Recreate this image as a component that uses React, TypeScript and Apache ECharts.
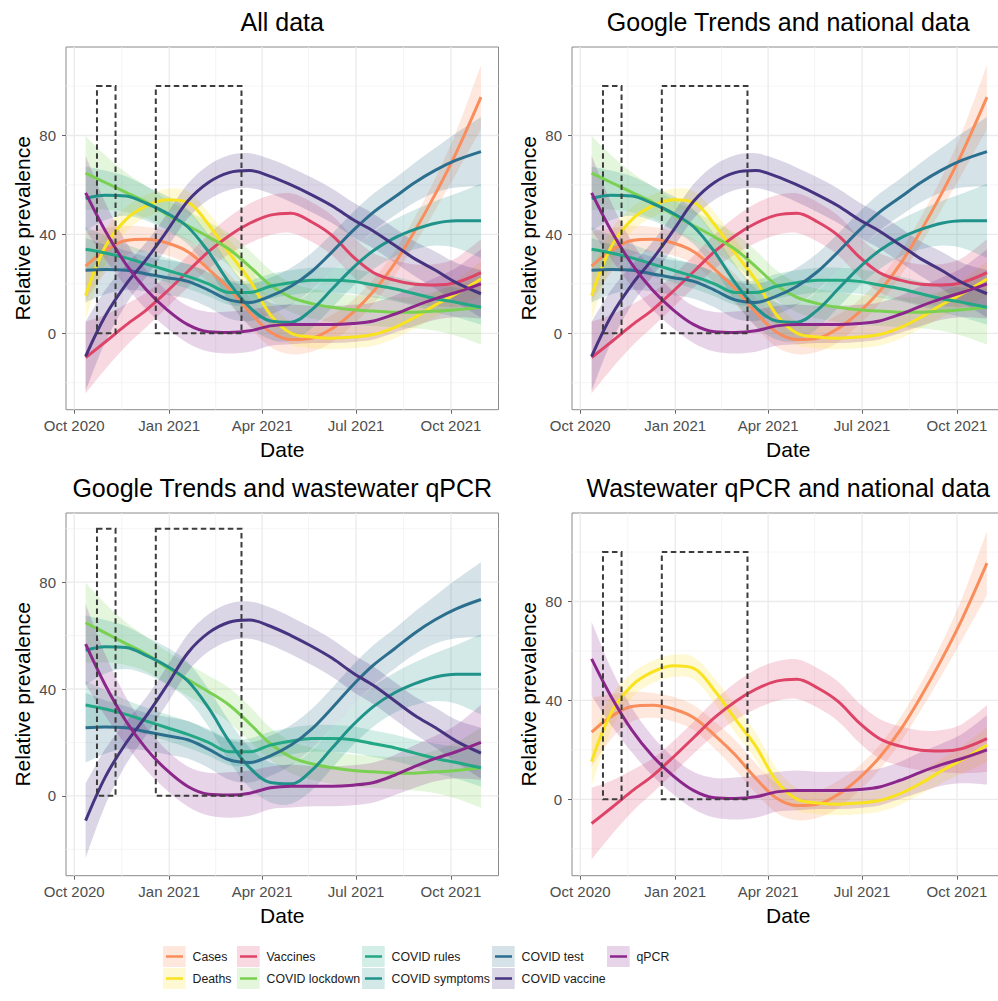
import React, { useEffect, useRef } from 'react';
import * as echarts from 'echarts';

// ---------- data ----------
const DATES = ['2020-10-12','2020-10-31','2020-11-20','2020-12-10','2020-12-30','2021-01-19','2021-02-08','2021-02-28','2021-03-20','2021-04-09','2021-04-29','2021-05-19','2021-06-08','2021-06-28','2021-07-18','2021-08-07','2021-08-27','2021-09-16','2021-10-06','2021-10-30'];

const CASES = [27.2, 33.5, 37.5, 38, 36.5, 33, 26, 18, 8.5, 0.5, -2.5, -2, 2, 8.5, 17, 28, 41.5, 56.5, 73, 95.5];
const CASES_SE = [14, 9, 6, 5, 5, 5, 5.5, 6, 6, 6, 6, 5.5, 5.5, 5, 5, 5, 5.5, 6.5, 8.5, 13];
const DEATHS = [15.3, 35, 46, 51.5, 54, 53, 44, 32.5, 21.5, 7.5, 0, -1.5, -2, -1.5, -0.5, 2.3, 6.5, 11.5, 16, 22];
const DEATHS_SE = [10, 7, 5, 4.5, 4.5, 4.5, 5, 5.5, 5.5, 5, 4.5, 4.5, 4.5, 4.5, 4.5, 4.5, 4.5, 5, 5.5, 7];
const VACCINES = [-9.8, -3.5, 3.3, 9.5, 17, 25, 33, 39.5, 44.5, 47.8, 48.6, 45, 39.5, 31, 24.5, 21.5, 19.8, 19.5, 20.5, 24.5];
const VACCINES_SE = [14.5, 11, 8.5, 7, 6.5, 6.5, 7, 7.5, 8, 8, 8, 8, 8, 8, 8, 8, 8, 8.5, 10, 13.5];
const LOCKDOWN = [64.8, 61, 57, 53, 48, 43.5, 39, 34, 27, 19.5, 14.5, 12, 10.5, 9.5, 9, 8.5, 8.5, 9, 9.5, 10.5];
const LOCKDOWN_SE = [15, 11, 8, 6.5, 6, 6, 6, 6.5, 6.5, 6, 6, 6, 6, 6, 6, 6, 6.5, 8, 10.5, 15];
const RULES = [34, 32.5, 30.5, 28, 25.5, 23, 20, 16.5, 16.5, 19, 20.5, 21.5, 21.5, 21, 19.5, 18, 16, 14, 12.5, 10.5];
const RULES_SE = [9, 7, 5.5, 5, 5, 5, 5, 5, 5, 5, 5, 5, 5, 5, 5, 5, 5, 5.5, 6, 7];
const SYMPTOMS = [54.5, 55.8, 55.5, 52.5, 48.5, 43, 33, 20.5, 10.5, 5, 4.5, 9.5, 18, 26.5, 33.5, 38.5, 42, 44.5, 45.5, 45.5];
const SYMPTOMS_SE = [13, 10, 8, 7, 7, 7, 7, 7.5, 7.5, 7.5, 7.5, 7.5, 7.5, 7.5, 7.5, 7.5, 8, 9, 11, 15];
const TEST = [25.5, 25.8, 25.5, 24, 22.5, 21, 17.5, 13.5, 12.5, 15, 19, 25, 33, 41.5, 49, 55, 61, 66, 70, 73.5];
const TEST_SE = [13, 10, 8, 7, 7, 7, 7, 7.5, 7.5, 7.5, 7.5, 7.5, 7.5, 7.5, 7.5, 7.5, 8, 9, 11, 14];
const VACCINE = [-9.3, 7, 19.7, 30, 41.5, 53.5, 61, 65, 65.8, 63.5, 60, 56, 51.5, 46, 41.3, 35.7, 30.1, 25.5, 20.5, 16];
const VACCINE_SE = [14, 10.5, 8, 7, 7, 7, 7, 7, 7, 7, 7, 7, 7, 7, 7, 7, 7, 7.5, 8, 9.5];
const QPCR = [56.8, 41.5, 28, 17.5, 9.5, 3.5, 0.6, 0.3, 1, 3, 3.6, 3.6, 3.6, 4, 5, 7.7, 11, 14, 16.5, 20];
const QPCR_SE = [15, 11.5, 9, 8, 7.5, 7.5, 8, 8.5, 8.5, 8, 8, 7.5, 7.5, 7.5, 7.5, 7.5, 8, 8.5, 10, 14];

const NAMES = ['Cases', 'Deaths', 'Vaccines', 'COVID lockdown', 'COVID rules', 'COVID symptoms', 'COVID test', 'COVID vaccine', 'qPCR'];
const VALUES = [CASES, DEATHS, VACCINES, LOCKDOWN, RULES, SYMPTOMS, TEST, VACCINE, QPCR];
const SES = [CASES_SE, DEATHS_SE, VACCINES_SE, LOCKDOWN_SE, RULES_SE, SYMPTOMS_SE, TEST_SE, VACCINE_SE, QPCR_SE];
const COLORS = ['#F98D5B', '#F9E21E', '#DE4368', '#7AD151', '#22A884', '#1F928A', '#2C6E8E', '#463480', '#8B278A'];

const PANEL_TITLES = ['All data', 'Google Trends and national data', 'Google Trends and wastewater qPCR', 'Wastewater qPCR and national data'];
const PANEL_MEMBERS = [[0, 1, 2, 3, 4, 5, 6, 7, 8], [0, 1, 2, 3, 4, 5, 6, 7, 8], [3, 4, 5, 6, 7, 8], [0, 1, 2, 8]];

const X_MAJOR = ['2020-10-01', '2021-01-01', '2021-04-01', '2021-07-01', '2021-10-01'];
const X_MINOR = ['2020-11-16', '2021-02-15', '2021-05-16', '2021-08-16'];
const Y_MAJOR = [0, 40, 80];
const Y_MINOR = [-20, 20, 60, 100];
const BOXES = [['2020-10-23', '2020-11-10'], ['2020-12-19', '2021-03-12']];
const BOX_Y = [0, 100];

const MONTHS = ['Jan', 'Feb', 'Mar', 'Apr', 'May', 'Jun', 'Jul', 'Aug', 'Sep', 'Oct', 'Nov', 'Dec'];

// ---------- layout ----------
const X_RANGE = ['2020-09-23', '2021-11-16'];
const PANELS = [
  { left: 66, top: 47, yMin: -30.9, yMax: 115.8 },
  { left: 572, top: 47, yMin: -30.9, yMax: 115.8 },
  { left: 66, top: 513, yMin: -29.9, yMax: 105.9 },
  { left: 572, top: 513, yMin: -30.9, yMax: 115.8 },
];
const PLOT_W = 432.5;
const PLOT_H = 362.7;
const FONT = "'Liberation Sans', Arial, Helvetica, sans-serif";
const LEGEND_COLS = [[0, 1], [2, 3], [4, 5], [6, 7], [8]];
const LEGEND_LEFT = [163, 237, 362, 492, 607];
const LEGEND_TOP = 946;

function alpha(hex: string, a: number) {
  const r = parseInt(hex.slice(1, 3), 16);
  const g = parseInt(hex.slice(3, 5), 16);
  const b = parseInt(hex.slice(5, 7), 16);
  return `rgba(${r},${g},${b},${a})`;
}

const ts = (d: string) => Date.parse(d);

// Catmull-Rom spline through pixel points, as cubic Bezier commands (for drawing only)
function splineSegs(p: number[][]): string {
  let d = '';
  for (let i = 0; i < p.length - 1; i++) {
    const p0 = p[Math.max(0, i - 1)];
    const p1 = p[i];
    const p2 = p[i + 1];
    const p3 = p[Math.min(p.length - 1, i + 2)];
    const c1x = p1[0] + (p2[0] - p0[0]) / 6;
    const c1y = p1[1] + (p2[1] - p0[1]) / 6;
    const c2x = p2[0] - (p3[0] - p1[0]) / 6;
    const c2y = p2[1] - (p3[1] - p1[1]) / 6;
    d += ` C${c1x.toFixed(2)},${c1y.toFixed(2)} ${c2x.toFixed(2)},${c2y.toFixed(2)} ${p2[0].toFixed(2)},${p2[1].toFixed(2)}`;
  }
  return d;
}

function buildOption() {
  const xs = DATES.map(ts);
  const xMajor = X_MAJOR.map(ts);
  const xMinor = X_MINOR.map(ts);
  const grid: any[] = [];
  const xAxis: any[] = [];
  const yAxis: any[] = [];
  const series: any[] = [];
  const title: any[] = [];

  PANELS.forEach((p, gi) => {
    grid.push({
      left: p.left, top: p.top, width: PLOT_W, height: PLOT_H,
      show: true, borderColor: '#8a8a8a', borderWidth: 1, backgroundColor: 'transparent',
      containLabel: false, outerBoundsMode: 'none',
    });
    xAxis.push({
      type: 'value', gridIndex: gi, min: ts(X_RANGE[0]), max: ts(X_RANGE[1]),
      name: 'Date', nameLocation: 'middle', nameGap: 29,
      nameTextStyle: { fontSize: 21, color: '#000', fontFamily: FONT },
      axisLine: { show: false, onZero: false },
      axisTick: { show: true, customValues: xMajor, length: 4, lineStyle: { color: '#666', width: 1 } },
      axisLabel: {
        customValues: xMajor, margin: 8, color: '#4D4D4D', fontSize: 15, fontFamily: FONT,
        formatter: (v: number) => { const d = new Date(v); return MONTHS[d.getUTCMonth()] + ' ' + d.getUTCFullYear(); },
      },
      splitLine: { show: false },
    });
    yAxis.push({
      type: 'value', gridIndex: gi, min: p.yMin, max: p.yMax,
      name: 'Relative prevalence', nameLocation: 'middle', nameGap: 33,
      nameTextStyle: { fontSize: 21, color: '#000', fontFamily: FONT },
      axisLine: { show: false, onZero: false },
      axisTick: { show: true, customValues: Y_MAJOR, length: 4, lineStyle: { color: '#666', width: 1 } },
      axisLabel: { customValues: Y_MAJOR, margin: 10, color: '#4D4D4D', fontSize: 15, fontFamily: FONT },
      splitLine: { show: false },
    });
    title.push({
      text: PANEL_TITLES[gi], left: p.left + PLOT_W / 2, top: p.top - 38, textAlign: 'center', padding: 0,
      textStyle: { fontSize: 25, fontWeight: 'normal', color: '#000', fontFamily: FONT },
    });

    // grid lines
    const gl: any[] = [];
    xMinor.forEach((x) => gl.push([x, 0, 1, 0]));
    Y_MINOR.forEach((y) => gl.push([xMajor[0], y, 0, 0]));
    xMajor.forEach((x) => gl.push([x, 0, 1, 1]));
    Y_MAJOR.forEach((y) => gl.push([xMajor[0], y, 0, 1]));
    series.push({
      type: 'custom', xAxisIndex: gi, yAxisIndex: gi, silent: true, z: 1, data: gl,
      renderItem: (params: any, api: any) => {
        const cs = params.coordSys;
        const pt = api.coord([api.value(0), api.value(1)]);
        const vertical = api.value(2) === 1;
        const major = api.value(3) === 1;
        const shape = vertical
          ? { x1: pt[0], y1: cs.y, x2: pt[0], y2: cs.y + cs.height }
          : { x1: cs.x, y1: pt[1], x2: cs.x + cs.width, y2: pt[1] };
        return { type: 'line', shape, silent: true, style: { stroke: major ? '#EBEBEB' : '#F3F3F3', lineWidth: major ? 1.3 : 0.8 } };
      },
    });

    PANEL_MEMBERS[gi].forEach((k) => {
      const vals = VALUES[k];
      const se = SES[k];
      const bandData = xs.map((x, i) => [x, vals[i] - se[i], vals[i] + se[i]]);
      series.push({
        type: 'custom', name: NAMES[k] + ' band', xAxisIndex: gi, yAxisIndex: gi, silent: true, z: 2, clip: true,
        data: bandData,
        encode: { x: 0, y: [1, 2] },
        renderItem: (params: any, api: any) => {
          if (params.dataIndex !== 0) return null;
          const upper = bandData.map((r) => api.coord([r[0], r[2]]));
          const lower = bandData.map((r) => api.coord([r[0], r[1]])).reverse();
          const d = `M${upper[0][0].toFixed(2)},${upper[0][1].toFixed(2)}` + splineSegs(upper) +
            ` L${lower[0][0].toFixed(2)},${lower[0][1].toFixed(2)}` + splineSegs(lower) + ' Z';
          return { type: 'path', shape: { pathData: d }, silent: true, style: { fill: alpha(COLORS[k], 0.2), stroke: 'none' } };
        },
      });
      series.push({
        type: 'line', name: NAMES[k], xAxisIndex: gi, yAxisIndex: gi,
        data: xs.map((x, i) => [x, vals[i]]), smooth: 0.35, symbol: 'none', silent: true,
        lineStyle: { color: COLORS[k], width: 3 }, itemStyle: { color: COLORS[k] }, z: 2,
      });
    });

    series.push({
      type: 'custom', xAxisIndex: gi, yAxisIndex: gi, silent: true, z: 3,
      data: BOXES.map((b) => [ts(b[0]), BOX_Y[0], ts(b[1]), BOX_Y[1]]),
      renderItem: (params: any, api: any) => {
        const a = api.coord([api.value(0), api.value(3)]);
        const b = api.coord([api.value(2), api.value(1)]);
        return {
          type: 'rect', silent: true,
          shape: { x: a[0], y: a[1], width: b[0] - a[0], height: b[1] - a[1] },
          style: { fill: 'none', stroke: '#3c3c3c', lineWidth: 2, lineDash: [5.5, 3.5] },
        };
      },
    });
  });

  const LINE_ICON = 'path://M0,0h0.01v0.01h-0.01z M3,9.2h17v2.6h-17z M24.49,20.99h0.01v0.01h-0.01z';
  const legend: any[] = [];
  LEGEND_COLS.forEach((col, ci) => {
    legend.push({
      orient: 'vertical', left: LEGEND_LEFT[ci], top: LEGEND_TOP, padding: 0,
      itemWidth: 22.7, itemHeight: 21, itemGap: 1, icon: 'rect', selectedMode: false,
      formatter: () => '',
      data: col.map((k) => ({ name: NAMES[k], itemStyle: { color: alpha(COLORS[k], 0.2), borderWidth: 0, borderColor: 'transparent', opacity: 1 } })),
    });
    legend.push({
      orient: 'vertical', left: LEGEND_LEFT[ci], top: LEGEND_TOP, padding: 0,
      itemWidth: 24.5, itemHeight: 21, itemGap: 1, icon: LINE_ICON, selectedMode: false,
      textStyle: { fontSize: 12.3, color: '#1a1a1a', fontFamily: FONT },
      data: col.map((k) => ({ name: NAMES[k], itemStyle: { color: COLORS[k], borderWidth: 0, borderColor: 'transparent', opacity: 1 } })),
    });
  });

  return {
    animation: false,
    backgroundColor: '#ffffff',
    textStyle: { fontFamily: FONT },
    title, grid, xAxis, yAxis, series, legend,
  };
}

export default function App() {
  const ref = useRef<HTMLDivElement>(null);
  useEffect(() => {
    document.body.style.margin = '0';
    if (!ref.current) return;
    const chart = echarts.init(ref.current, undefined, { renderer: 'svg' });
    chart.setOption(buildOption() as any);
    return () => chart.dispose();
  }, []);
  return <div ref={ref} style={{ width: 998, height: 1001 }} />;
}
